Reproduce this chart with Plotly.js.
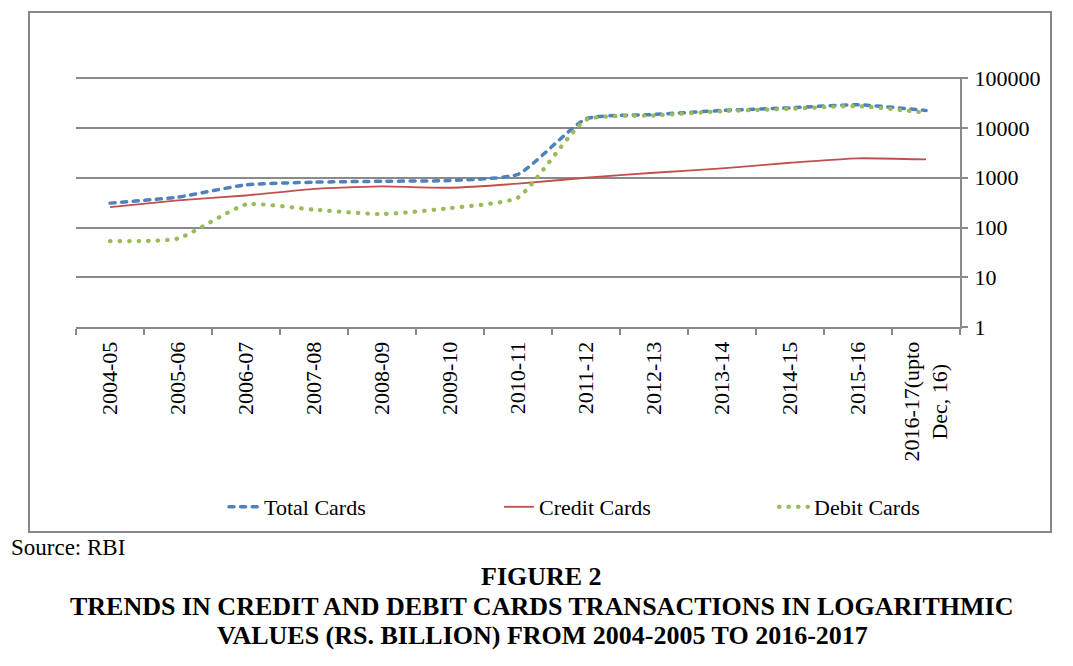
<!DOCTYPE html>
<html>
<head>
<meta charset="utf-8">
<script src="https://cdn.plot.ly/plotly-3.0.1.min.js"></script>
<style>html,body{margin:0;padding:0;background:#fff;}#chart{width:1073px;height:666px;}</style>
</head>
<body>
<div id="chart"></div>
<script>
var categories = ["2004-05","2005-06","2006-07","2007-08","2008-09","2009-10","2010-11","2011-12","2012-13","2013-14","2014-15","2015-16","2016-17(upto Dec, 16)"];
var tickLabels = ["2004-05","2005-06","2006-07","2007-08","2008-09","2009-10","2010-11","2011-12","2012-13","2013-14","2014-15","2015-16","2016-17(upto<br>Dec, 16)&nbsp;&nbsp;&nbsp;&nbsp;"];
var totalCards  = [309, 408, 720, 815, 850, 880, 1170, 15300, 18700, 22500, 25400, 29300, 22500];
var creditCards = [257, 350, 440, 600, 670, 630, 760, 1000, 1260, 1550, 2000, 2460, 2330];
var debitCards  = [53, 60, 290, 228, 186, 245, 400, 14600, 17800, 21700, 24300, 27500, 20200];
var yTickVals = [1, 10, 100, 1000, 10000, 100000];
var yTickText = ["1", "10", "100", "1000", "10000", "100000"];
var seriesNames = ["Total Cards", "Credit Cards", "Debit Cards"];

var FONT = "Liberation Serif, Times New Roman, serif";
var GRID = "#8a8a8a";

var traces = [
  {x: categories, y: totalCards, name: seriesNames[0], type: "scatter", mode: "lines",
   line: {color: "#4F81BD", width: 3.5, dash: "5px,6.6px", shape: "spline", smoothing: 0.5}},
  {x: categories, y: creditCards, name: seriesNames[1], type: "scatter", mode: "lines",
   line: {color: "#C0504D", width: 1.8, shape: "spline", smoothing: 0.5}},
  {x: categories, y: debitCards, name: seriesNames[2], type: "scatter", mode: "lines",
   line: {color: "#9BBB59", width: 4.2, dash: "0.5px,9px", shape: "spline", smoothing: 0.5}}
];

function py(p){ return (327 - p) / 250; }
function px(p){ return (p - 76) / 884; }

var layout = {
  width: 1073, height: 666,
  margin: {l: 76, r: 113, t: 77, b: 339},
  paper_bgcolor: "#fff", plot_bgcolor: "#fff",
  font: {family: FONT, size: 22, color: "#000"},
  showlegend: true,
  legend: {orientation: "h", x: px(224), y: py(507), xanchor: "left", yanchor: "middle",
           font: {family: FONT, size: 22, color: "#000"}, entrywidth: 230, entrywidthmode: "pixels",
           bgcolor: "rgba(0,0,0,0)"},
  xaxis: {type: "category", range: [-0.5, 12.5], tickmode: "array", tickvals: categories, ticktext: tickLabels,
          tickson: "boundaries", ticks: "outside", ticklen: 6, tickwidth: 2,
          tickcolor: GRID, showline: true, linecolor: GRID, linewidth: 2, showgrid: false,
          tickangle: -90, ticklabelstandoff: 4, tickfont: {family: FONT, size: 22, color: "#000"}, zeroline: false},
  yaxis: {type: "log", range: [0, 5.025], side: "right", tickmode: "array", tickvals: yTickVals,
          ticktext: yTickText, ticks: "outside", ticklen: 6, tickwidth: 2, tickcolor: GRID,
          showline: true, linecolor: GRID, linewidth: 2, showgrid: true, gridcolor: GRID,
          gridwidth: 2, ticklabelstandoff: 2, tickfont: {family: FONT, size: 22, color: "#000"},
          zeroline: false},
  shapes: [
    {type: "rect", xref: "paper", yref: "paper", x0: px(29), x1: px(1051), y0: py(532), y1: py(12),
     line: {color: "#888888", width: 2}, fillcolor: "rgba(0,0,0,0)", layer: "below"}
  ],
  annotations: [
    {text: "Source: RBI", xref: "paper", yref: "paper", x: px(9), y: py(547), xanchor: "left",
     yanchor: "middle", showarrow: false, font: {family: FONT, size: 23, color: "#000"}},
    {text: "<b>FIGURE 2</b>", xref: "paper", yref: "paper", x: px(541), y: py(576), xanchor: "center",
     yanchor: "middle", showarrow: false, font: {family: FONT, size: 26, color: "#000"}},
    {text: "<b>TRENDS IN CREDIT AND DEBIT CARDS TRANSACTIONS IN LOGARITHMIC</b>", xref: "paper", yref: "paper",
     x: px(541), y: py(606), xanchor: "center", yanchor: "middle", showarrow: false,
     font: {family: FONT, size: 26, color: "#000"}},
    {text: "<b>VALUES (RS. BILLION) FROM 2004-2005 TO 2016-2017</b>", xref: "paper", yref: "paper",
     x: px(542), y: py(635), xanchor: "center", yanchor: "middle", showarrow: false,
     font: {family: FONT, size: 26, color: "#000"}}
  ]
};

Plotly.newPlot("chart", traces, layout, {displayModeBar: false, staticPlot: true}).then(function(gd){
  var tr = document.querySelectorAll(".scatterlayer .trace");
  [0, 2].forEach(function(i){
    if (tr[i]) tr[i].querySelectorAll("path.js-line").forEach(function(p){ p.style.strokeLinecap = "round"; });
  });
  var lg = document.querySelectorAll(".legend .traces");
  [0, 2].forEach(function(i){
    if (lg[i]) lg[i].querySelectorAll("path").forEach(function(p){ p.style.strokeLinecap = "round"; });
  });
});
</script>
</body>
</html>
